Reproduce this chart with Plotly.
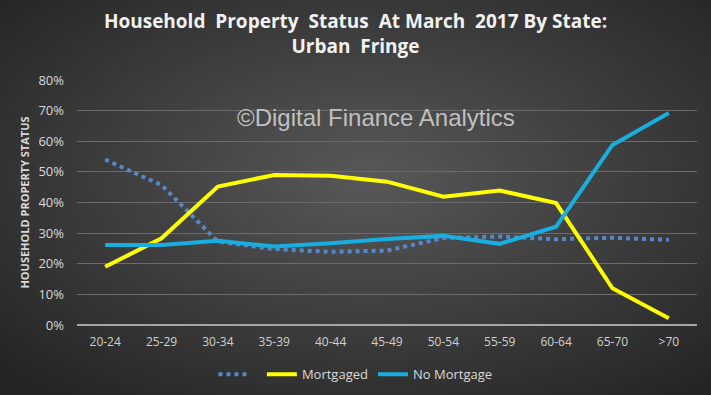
import base64
import plotly.graph_objects as go

categories = ["20-24", "25-29", "30-34", "35-39", "40-44", "45-49", "50-54", "55-59", "60-64", "65-70", ">70"]
unnamed = [0.54, 0.457, 0.272, 0.248, 0.239, 0.243, 0.284, 0.289, 0.280, 0.285, 0.278]
mortgaged = [0.19, 0.283, 0.452, 0.490, 0.487, 0.468, 0.419, 0.439, 0.398, 0.120, 0.022]
no_mortgage = [0.261, 0.261, 0.275, 0.256, 0.267, 0.281, 0.291, 0.265, 0.321, 0.588, 0.692]
y_ticks = [0, 0.1, 0.2, 0.3, 0.4, 0.5, 0.6, 0.7, 0.8]
y_ticklabels = ["0%", "10%", "20%", "30%", "40%", "50%", "60%", "70%", "80%"]

W, H = 711, 395
ml, mr, mt, mb = 77, 14, 80, 70
pw, ph = W - ml - mr, H - mt - mb

svg = f'''<svg xmlns="http://www.w3.org/2000/svg" width="{W}" height="{H}" viewBox="0 0 {W} {H}" preserveAspectRatio="none">
<defs><radialGradient id="g" cx="52%" cy="45%" r="70%" fx="52%" fy="45%">
<stop offset="0%" stop-color="#585858"/><stop offset="100%" stop-color="#252525"/></radialGradient></defs>
<rect width="{W}" height="{H}" fill="url(#g)"/></svg>'''
src = "data:image/svg+xml;base64," + base64.b64encode(svg.encode()).decode()

fig = go.Figure()
fig.add_trace(go.Scatter(x=categories, y=unnamed, name=" ", mode="lines",
                         line=dict(color="#5588c8", width=4, dash="dot")))
fig.add_trace(go.Scatter(x=categories, y=mortgaged, name="Mortgaged", mode="lines",
                         line=dict(color="#ffff00", width=4)))
fig.add_trace(go.Scatter(x=categories, y=no_mortgage, name="No Mortgage", mode="lines",
                         line=dict(color="#19aee0", width=4)))

fig.update_layout(
    width=W, height=H,
    margin=dict(l=ml, r=mr, t=mt, b=mb, autoexpand=False),
    paper_bgcolor="#3a3a3a",
    plot_bgcolor="rgba(0,0,0,0)",
    font=dict(family="Open Sans, sans-serif", color="#d9d9d9", size=12),
    title=dict(text="Household  Property  Status  At March  2017 By State:<br>Urban  Fringe",
               x=0.5, xanchor="center", y=0.928, yanchor="top",
               font=dict(family="Open Sans, sans-serif", size=19, color="#f2f2f2", weight="bold")),
    images=[dict(source=src, xref="paper", yref="paper",
                 x=-ml / pw, y=1 + mt / ph, sizex=W / pw, sizey=H / ph,
                 xanchor="left", yanchor="top", sizing="stretch", layer="below")],
    xaxis=dict(type="category", range=[-0.5, 10.5], showgrid=False, showline=False,
               zeroline=False, ticks="", ticklabelstandoff=8,
               tickfont=dict(size=12, color="#d0d0d0")),
    yaxis=dict(range=[0, 0.8], tickvals=y_ticks, ticktext=y_ticklabels,
               gridcolor="#6b6b6b", gridwidth=1, zeroline=True, zerolinecolor="#a6a6a6",
               zerolinewidth=1.5, showline=False, ticks="", ticklabelstandoff=12,
               tickfont=dict(size=13, color="#d9d9d9"),
               title=dict(text="<b>HOUSEHOLD PROPERTY STATUS</b>", standoff=6,
                          font=dict(size=11, color="#d9d9d9"))),
    legend=dict(orientation="h", xref="container", x=0.5, xanchor="center",
                y=-0.14, yanchor="top",
                font=dict(size=13, color="#d9d9d9"), bgcolor="rgba(0,0,0,0)",
                itemwidth=30, tracegroupgap=0),
    showlegend=True,
    annotations=[dict(text="©Digital Finance Analytics", xref="paper", yref="paper",
                      x=0.482, y=0.845, xanchor="center", yanchor="middle", showarrow=False,
                      font=dict(family="Liberation Sans, Arial, sans-serif", size=24, color="#c0c0c0"))],
)

fig.write_html("out.html", config={"displayModeBar": False},
               post_script="document.body.style.margin='0';document.body.style.overflow='hidden';")
